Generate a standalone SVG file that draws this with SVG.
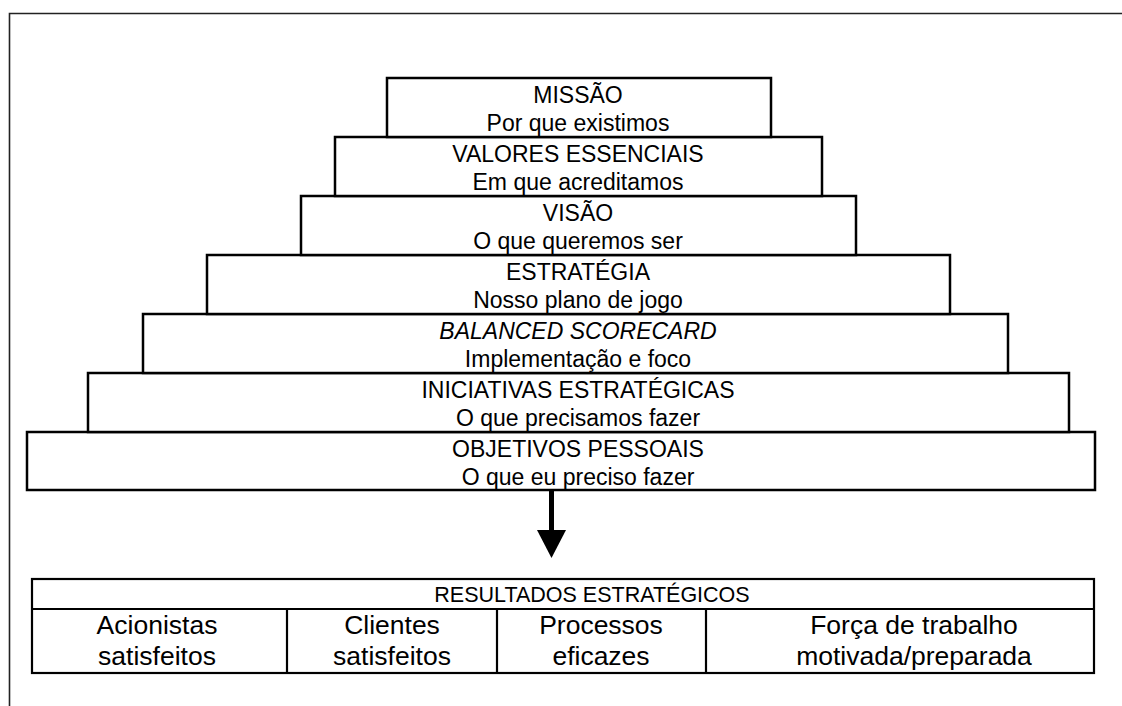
<svg xmlns="http://www.w3.org/2000/svg" width="1122" height="706" viewBox="0 0 1122 706">
<style>
.box{fill:#fff;stroke:#000;stroke-width:2.5}
.cell{fill:none;stroke:#000;stroke-width:2.2}
.t{font-family:"Liberation Sans",Arial,sans-serif;font-size:23px;fill:#000;text-anchor:middle}
.h{font-family:"Liberation Sans",Arial,sans-serif;font-size:21.5px;fill:#000;text-anchor:middle}
.c{font-family:"Liberation Sans",Arial,sans-serif;font-size:26.5px;fill:#000;text-anchor:middle}
.frame{fill:none;stroke:#222;stroke-width:1.6}
</style>
<rect width="1122" height="706" fill="#fff"/>
<path class="frame" d="M9.5,706 V13.5 H1122"/>
<g id="objetivos">
<rect class="box" x="27" y="432" width="1068" height="58"/>
</g>
<g id="iniciativas">
<rect class="box" x="88" y="373" width="981" height="59"/>
</g>
<g id="bsc">
<rect class="box" x="143" y="314" width="865" height="59"/>
</g>
<g id="estrategia">
<rect class="box" x="207" y="255" width="743" height="59"/>
</g>
<g id="visao">
<rect class="box" x="301" y="196" width="555" height="59"/>
</g>
<g id="valores">
<rect class="box" x="335" y="137" width="487" height="59"/>
</g>
<g id="missao">
<rect class="box" x="387" y="78" width="384" height="59"/>
</g>
<g id="labels">
<text class="t" x="578" y="103">MISSÃO</text>
<text class="t" x="578" y="130.5">Por que existimos</text>
<text class="t" x="578" y="162">VALORES ESSENCIAIS</text>
<text class="t" x="578" y="189.5">Em que acreditamos</text>
<text class="t" x="578" y="221">VISÃO</text>
<text class="t" x="578" y="248.5">O que queremos ser</text>
<text class="t" x="578" y="280">ESTRATÉGIA</text>
<text class="t" x="578" y="307.5">Nosso plano de jogo</text>
<text class="t" x="578" y="339" font-style="italic">BALANCED SCORECARD</text>
<text class="t" x="578" y="366.5">Implementação e foco</text>
<text class="t" x="578" y="398">INICIATIVAS ESTRATÉGICAS</text>
<text class="t" x="578" y="425.5">O que precisamos fazer</text>
<text class="t" x="578" y="457">OBJETIVOS PESSOAIS</text>
<text class="t" x="578" y="484.5">O que eu preciso fazer</text>
</g>
<g id="connectors">
<rect x="549" y="490" width="5" height="41" fill="#000"/>
<polygon points="537,530 566,530 551.5,558" fill="#000"/>
</g>
<g id="resultados">
<rect class="cell" x="32" y="579" width="1062" height="94"/>
<line class="cell" x1="32" y1="609" x2="1094" y2="609"/>
<line class="cell" x1="287" y1="609" x2="287" y2="673"/>
<line class="cell" x1="497" y1="609" x2="497" y2="673"/>
<line class="cell" x1="706" y1="609" x2="706" y2="673"/>
<text class="h" x="592" y="602">RESULTADOS ESTRATÉGICOS</text>
<text class="c" x="157" y="634">Acionistas</text>
<text class="c" x="157" y="665">satisfeitos</text>
<text class="c" x="392" y="634">Clientes</text>
<text class="c" x="392" y="665">satisfeitos</text>
<text class="c" x="601" y="634">Processos</text>
<text class="c" x="601" y="665">eficazes</text>
<text class="c" x="914" y="634">Força de trabalho</text>
<text class="c" x="914" y="665">motivada/preparada</text>
</g>
</svg>
